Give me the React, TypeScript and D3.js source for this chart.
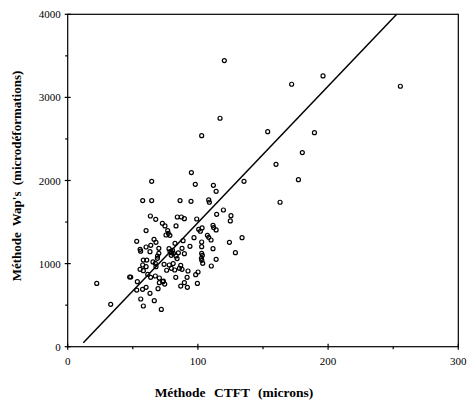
import React from "react";
import * as d3 from "d3";

const ctft = [22.3, 33.0, 47.6, 48.4, 53.0, 53.5, 53.0, 55.6, 56.0, 57.6, 64.5, 64.5, 63.5, 60.2, 67.6, 66.3, 67.8, 60.2, 63.8, 63.2, 70.0, 70.0, 69.0, 58.1, 60.7, 57.6, 60.2, 55.6, 58.1, 56.1, 58.1, 63.2, 60.2, 57.5, 66.5, 71.9, 69.4, 67.3, 63.7, 70.4, 73.0, 74.5, 70.4, 67.3, 67.8, 68.9, 74.0, 72.7, 74.7, 76.8, 77.3, 75.5, 78.5, 77.8, 78.6, 79.5, 79.9, 81.0, 78.0, 79.6, 82.2, 83.0, 80.5, 82.4, 83.2, 84.2, 87.3, 89.6, 86.3, 95.0, 94.7, 98.0, 99.1, 97.0, 93.9, 88.6, 87.8, 89.6, 83.2, 81.2, 84.0, 86.8, 87.8, 85.8, 92.4, 86.8, 89.6, 91.9, 91.7, 98.3, 100.1, 99.6, 100.6, 103.2, 101.9, 102.9, 102.9, 102.9, 103.4, 102.7, 103.7, 103.0, 110.3, 102.9, 117.0, 120.3, 111.9, 114.0, 108.3, 108.8, 119.6, 114.4, 111.6, 112.1, 114.0, 107.3, 108.3, 110.1, 111.6, 114.0, 125.4, 124.9, 124.2, 128.8, 133.9, 135.4, 153.6, 160.0, 163.1, 172.0, 177.2, 180.2, 189.5, 196.1, 255.5, 73.5, 76.0, 85.0, 61.5, 65.5];
const waps = [762, 510, 839, 839, 1268, 783, 682, 1172, 1150, 1758, 1758, 1990, 1573, 1397, 1533, 1292, 1256, 1200, 1220, 1144, 1184, 1124, 1090, 1043, 1043, 983, 963, 931, 915, 574, 490, 642, 714, 690, 554, 449, 698, 851, 835, 827, 783, 754, 770, 1003, 963, 1063, 991, 1485, 1453, 1397, 1364, 1344, 1340, 1180, 1144, 1100, 1132, 1000, 983, 943, 923, 835, 1160, 1244, 1453, 1561, 1561, 1541, 1758, 2095, 1750, 1954, 1537, 1312, 1208, 1276, 1184, 1120, 1092, 1124, 1060, 979, 931, 943, 911, 730, 770, 714, 835, 867, 899, 762, 1413, 1429, 1389, 1260, 1204, 1124, 1100, 1063, 1003, 1040, 971, 2540, 2749, 3443, 1942, 1870, 1766, 1738, 1645, 1593, 1461, 1433, 1405, 1340, 1316, 1284, 1180, 1051, 1577, 1513, 1256, 1132, 1312, 1990, 2588, 2195, 1738, 3158, 2010, 2336, 2576, 3258, 3134, 790, 920, 1130, 870, 1020];

const xTicks = [0, 100, 200, 300];
const yTicks = [0, 1000, 2000, 3000, 4000];
const xMinor = [50, 150, 250];
const yMinor = [500, 1500, 2500, 3500];
const lineX = [12, 252.7];
const slope = 16.42;
const intercept = -149;

export default function App() {
  const left = 67.7, right = 458.3, top = 14.3, bottom = 346.7;
  const x = d3.scaleLinear().domain([0, 300]).range([left, right]);
  const y = d3.scaleLinear().domain([0, 4000]).range([bottom, top]);
  const font = "'Liberation Serif', 'Times New Roman', serif";
  const line = d3.line<number>().x((d) => x(d)).y((d) => y(slope * d + intercept));
  return (
    <svg width={467} height={404} style={{ position: "absolute", left: 0, top: 0, background: "#fff" }}>
      <rect x={left} y={top} width={right - left} height={bottom - top} fill="none" stroke="#000" strokeWidth={1.2} />
      {xTicks.map((t) => (
        <g key={"x" + t}>
          <line x1={x(t)} x2={x(t)} y1={bottom - 3} y2={bottom + 3} stroke="#000" strokeWidth={1.2} />
          <text x={x(t)} y={bottom + 18} textAnchor="middle" fontFamily={font} fontSize={11}>{t}</text>
        </g>
      ))}
      {xMinor.map((t) => (
        <line key={"xm" + t} x1={x(t)} x2={x(t)} y1={bottom} y2={bottom + 2.5} stroke="#000" strokeWidth={1.2} />
      ))}
      {yTicks.map((t) => (
        <g key={"y" + t}>
          <line x1={left - 3} x2={left + 3} y1={y(t)} y2={y(t)} stroke="#000" strokeWidth={1.2} />
          <text x={left - 7} y={y(t) + 4} textAnchor="end" fontFamily={font} fontSize={11}>{t}</text>
        </g>
      ))}
      {yMinor.map((t) => (
        <line key={"ym" + t} x1={left - 2.5} x2={left} y1={y(t)} y2={y(t)} stroke="#000" strokeWidth={1.2} />
      ))}
      <path d={line(lineX) || ""} fill="none" stroke="#000" strokeWidth={1.5} />
      {ctft.map((v, i) => (
        <circle key={i} cx={x(v)} cy={y(waps[i])} r={2} fill="none" stroke="#000" strokeWidth={1.2} />
      ))}
      <text x={234} y={397} textAnchor="middle" fontFamily={font} fontSize={13.5} fontWeight="bold" style={{ wordSpacing: "5px" }}>Méthode CTFT (microns)</text>
      <text transform={`translate(21,176) rotate(-90)`} textAnchor="middle" fontFamily={font} fontSize={13} fontWeight="bold" style={{ wordSpacing: "3px" }}>Méthode Wap's (microdéformations)</text>
    </svg>
  );
}
